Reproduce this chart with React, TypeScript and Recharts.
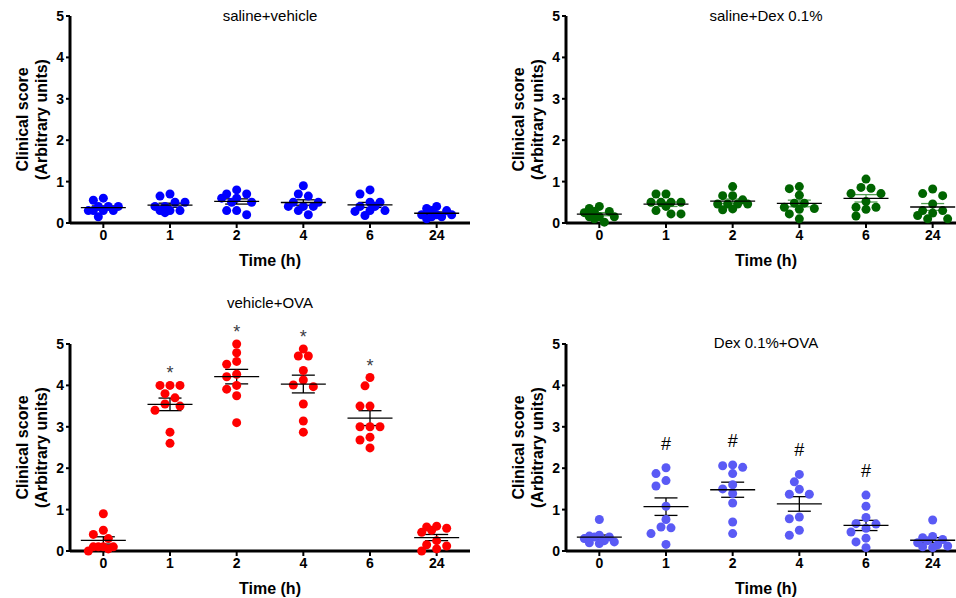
import React from "react";
import { ScatterChart, Scatter, XAxis, YAxis, ErrorBar } from "recharts";

const TIMES = ["0", "1", "2", "4", "6", "24"];
const Y_TICKS = [0, 1, 2, 3, 4, 5];

// clinical scores per animal, one array per time point
const salineVehicle = [
  [0.6, 0.55, 0.4, 0.4, 0.4, 0.3, 0.3, 0.3, 0.3, 0.15],
  [0.7, 0.65, 0.5, 0.5, 0.4, 0.4, 0.3, 0.3, 0.3, 0.25],
  [0.8, 0.7, 0.7, 0.6, 0.6, 0.5, 0.5, 0.3, 0.3, 0.2],
  [0.9, 0.7, 0.65, 0.5, 0.5, 0.4, 0.4, 0.4, 0.3, 0.2],
  [0.8, 0.7, 0.5, 0.5, 0.4, 0.4, 0.3, 0.3, 0.28, 0.18],
  [0.4, 0.35, 0.3, 0.3, 0.2, 0.2, 0.2, 0.15, 0.15, 0.1],
];
const salineDex = [
  [0.4, 0.35, 0.28, 0.28, 0.25, 0.15, 0.15, 0.15, 0.1, 0.02],
  [0.7, 0.7, 0.5, 0.5, 0.5, 0.5, 0.4, 0.3, 0.22, 0.22],
  [0.88, 0.66, 0.66, 0.56, 0.46, 0.46, 0.46, 0.46, 0.34, 0.32],
  [0.88, 0.83, 0.67, 0.48, 0.48, 0.38, 0.35, 0.33, 0.22, 0.1],
  [1.06, 0.86, 0.84, 0.71, 0.71, 0.52, 0.38, 0.38, 0.33, 0.17],
  [0.82, 0.71, 0.66, 0.46, 0.3, 0.3, 0.24, 0.18, 0.1, 0.1],
];
const vehicleOva = [
  [0.9, 0.5, 0.4, 0.3, 0.1, 0.1, 0.1, 0.1, 0.05, 0.0],
  [4.0, 4.0, 4.0, 3.8, 3.7, 3.55, 3.5, 3.4, 2.87, 2.6],
  [5.0, 4.79, 4.58, 4.51, 4.27, 4.21, 4.0, 3.91, 3.75, 3.1],
  [4.88, 4.71, 4.71, 4.36, 4.13, 4.01, 3.97, 3.55, 3.14, 2.87],
  [4.19, 3.99, 3.5, 3.5, 3.0, 3.0, 3.0, 2.75, 2.68, 2.49],
  [0.6, 0.58, 0.55, 0.5, 0.45, 0.25, 0.15, 0.12, 0.05, 0.0],
];
const dexOva = [
  [0.76, 0.38, 0.36, 0.34, 0.34, 0.3, 0.25, 0.22, 0.2, 0.18],
  [2.01, 1.87, 1.7, 1.57, 1.08, 0.76, 0.58, 0.56, 0.42, 0.16],
  [2.08, 2.06, 2.02, 1.87, 1.6, 1.5, 1.39, 1.16, 0.7, 0.42],
  [1.85, 1.67, 1.49, 1.37, 1.37, 0.82, 0.78, 0.5, 0.38],
  [1.35, 1.08, 0.81, 0.66, 0.65, 0.55, 0.46, 0.31, 0.22, 0.08],
  [0.75, 0.35, 0.32, 0.28, 0.25, 0.2, 0.15, 0.12, 0.1, 0.08],
];
// significance marks above each time point
const ovaMarks = ["", "*", "*", "*", "*", ""];
const dexOvaMarks = ["", "#", "#", "#", "#", ""];

const FONT = "'Liberation Sans', Arial, sans-serif";
const PLOT_W = 400;
const PLOT_H = 207;
const PX_X = PLOT_W / TIMES.length;
const PX_Y = PLOT_H / 5;
const DOT_R = 4.5;
const OFFSETS = [0, -5, 5, -10, 10, -15, 15];

// simple beeswarm: spread points sideways (max 1.5 dots each way), overlap allowed when crowded
function swarm(values: number[], idx: number) {
  const placed: { dx: number; y: number }[] = [];
  const sorted = [...values].sort((a, b) => b - a);
  return sorted.map((v) => {
    const yPx = v * PX_Y;
    const gap = (dx: number) =>
      placed.reduce((m, p) => Math.min(m, Math.hypot(p.dx - dx, p.y - yPx)), Infinity);
    let chosen = OFFSETS.find((dx) => gap(dx) >= 8.5);
    if (chosen === undefined) {
      chosen = OFFSETS.reduce((best, dx) => (gap(dx) > gap(best) + 0.01 ? dx : best), 0);
    }
    placed.push({ dx: chosen, y: yPx });
    return { x: idx + chosen / PX_X, y: v };
  });
}

const mean = (a: number[]) => a.reduce((s, v) => s + v, 0) / a.length;
const sem = (a: number[]) => {
  const m = mean(a);
  const sd = Math.sqrt(a.reduce((s, v) => s + (v - m) ** 2, 0) / (a.length - 1));
  return sd / Math.sqrt(a.length);
};

const YLabel = (props: any) => {
  const { viewBox } = props;
  const cy = viewBox.y + viewBox.height / 2;
  const x1 = viewBox.x;
  const x2 = viewBox.x + 19;
  const style = { fontFamily: FONT, fontSize: 16, fontWeight: "bold" as const, fill: "#000" };
  return (
    <g>
      <text x={x1} y={cy} transform={`rotate(-90 ${x1} ${cy})`} textAnchor="middle" dominantBaseline="central" style={style}>
        Clinical score
      </text>
      <text x={x2} y={cy} transform={`rotate(-90 ${x2} ${cy})`} textAnchor="middle" dominantBaseline="central" style={style}>
        (Arbitrary units)
      </text>
    </g>
  );
};

const XLabel = (props: any) => {
  const { viewBox } = props;
  return (
    <text
      x={viewBox.x + viewBox.width / 2}
      y={viewBox.y + 37}
      textAnchor="middle"
      dominantBaseline="central"
      style={{ fontFamily: FONT, fontSize: 16, fontWeight: "bold", fill: "#000" }}
    >
      Time (h)
    </text>
  );
};

type PanelProps = {
  title: string;
  groups: number[][];
  color: string;
  semColor?: string;
  marks?: string[];
  markColor?: string;
  markSize?: number;
  markLift?: number;
  left: number;
  top: number;
  width: number;
  height: number;
  margin: { top: number; right: number; bottom: number; left: number };
  titleY: number;
};

function Panel(p: PanelProps) {
  const dots = p.groups.flatMap((g, i) => swarm(g, i));
  const stats = p.groups.map((g, i) => ({ x: i, y: mean(g), sem: sem(g) }));
  const markData = (p.marks ?? [])
    .map((m, i) => ({ x: i, y: Math.max(...p.groups[i]), mark: m }))
    .filter((d) => d.mark);
  const plotLeft = p.margin.left + 48;

  return (
    <div style={{ position: "absolute", left: p.left, top: p.top, width: p.width, height: p.height }}>
      <ScatterChart width={p.width} height={p.height} margin={p.margin}>
        <XAxis
          type="number"
          dataKey="x"
          domain={[-0.5, 5.5]}
          ticks={[0, 1, 2, 3, 4, 5]}
          tickFormatter={(i: number) => TIMES[i]}
          height={45}
          axisLine={{ stroke: "#000", strokeWidth: 3 }}
          tickLine={{ stroke: "#000", strokeWidth: 2 }}
          tickSize={5}
          tick={{ fill: "#000", fontSize: 14, fontWeight: "bold", fontFamily: FONT }}
          label={<XLabel />}
        />
        <YAxis
          type="number"
          dataKey="y"
          domain={[0, 5]}
          ticks={Y_TICKS}
          width={48}
          axisLine={{ stroke: "#000", strokeWidth: 3 }}
          tickLine={{ stroke: "#000", strokeWidth: 2 }}
          tickSize={4}
          tickMargin={2}
          tick={{ fill: "#000", fontSize: 14, fontWeight: "bold", fontFamily: FONT }}
          label={<YLabel />}
        />
        <Scatter
          data={dots}
          isAnimationActive={false}
          shape={(s: any) => <circle cx={s.cx} cy={s.cy} r={DOT_R} fill={p.color} />}
        />
        <Scatter
          data={stats}
          isAnimationActive={false}
          shape={(s: any) => (
            <line x1={s.cx - 22.5} x2={s.cx + 22.5} y1={s.cy} y2={s.cy} stroke="#000" strokeWidth={1.3} />
          )}
        >
          <ErrorBar dataKey="sem" direction="y" width={11.5} stroke={p.semColor ?? "#000"} strokeWidth={1.3} isAnimationActive={false} />
        </Scatter>
        {markData.length > 0 && (
          <Scatter
            data={markData}
            isAnimationActive={false}
            shape={(s: any) => (
              <text
                x={s.cx}
                y={s.cy - (p.markLift ?? 0)}
                textAnchor="middle"
                style={{ fontFamily: FONT, fontSize: p.markSize ?? 18, fill: p.markColor ?? "#000" }}
              >
                {s.payload.mark}
              </text>
            )}
          />
        )}
      </ScatterChart>
      <div
        style={{
          position: "absolute",
          left: plotLeft,
          top: p.titleY - 10,
          width: PLOT_W,
          height: 20,
          lineHeight: "20px",
          textAlign: "center",
          fontFamily: FONT,
          fontSize: 15,
          color: "#000",
          whiteSpace: "nowrap",
        }}
      >
        {p.title}
      </div>
    </div>
  );
}

export default function App() {
  return (
    <div
      style={{
        position: "absolute",
        left: 0,
        top: 0,
        width: 956,
        height: 598,
        overflow: "hidden",
        background: "#fff",
      }}
    >
      <Panel
        title="saline+vehicle"
        groups={salineVehicle}
        color="#0000ff"
        left={0}
        top={0}
        width={478}
        height={299}
        margin={{ top: 16, right: 8, bottom: 31, left: 22 }}
        titleY={16}
      />
      <Panel
        title="saline+Dex 0.1%"
        groups={salineDex}
        color="#006400"
        semColor="#4f9a4f"
        left={478}
        top={0}
        width={496}
        height={299}
        margin={{ top: 16, right: 8, bottom: 31, left: 40 }}
        titleY={16}
      />
      <Panel
        title="vehicle+OVA"
        groups={vehicleOva}
        color="#ff0000"
        marks={ovaMarks}
        markColor="#3c3c44"
        markSize={18}
        markLift={6}
        left={0}
        top={290}
        width={478}
        height={308}
        margin={{ top: 54, right: 8, bottom: 2, left: 22 }}
        titleY={13}
      />
      <Panel
        title="Dex 0.1%+OVA"
        groups={dexOva}
        color="#5a5af5"
        marks={dexOvaMarks}
        markColor="#000"
        markSize={18}
        markLift={18}
        left={478}
        top={290}
        width={496}
        height={308}
        margin={{ top: 54, right: 8, bottom: 2, left: 40 }}
        titleY={53}
      />
    </div>
  );
}
